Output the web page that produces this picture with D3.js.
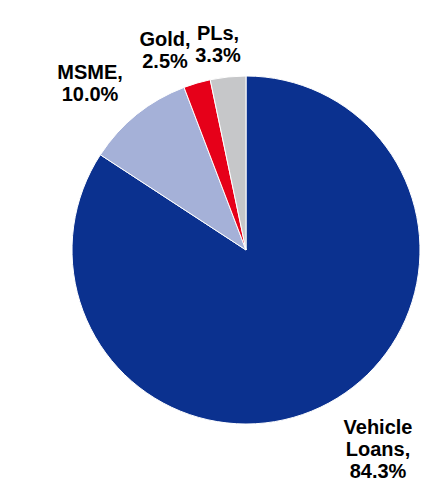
<!DOCTYPE html>
<html lang="en">
<head>
<meta charset="utf-8">
<title>Loan mix pie</title>
<script src="https://cdn.jsdelivr.net/npm/d3@7"></script>
<style>
  body { margin: 0; background: #fff; }
  text { font-family: Arial, "Liberation Sans", sans-serif; font-weight: bold; font-size: 20px; fill: #000; }
</style>
</head>
<body>
<script>
// data
var categories = ["Vehicle Loans", "MSME", "Gold", "PLs"];
var shares = [84.3, 10.0, 2.5, 3.3];
var colors = ["#0b318f", "#a5b1d8", "#e60019", "#c6c7c9"];

// label lines and where they sit (layout only)
var labelLines = [["Vehicle", "Loans,", "84.3%"], ["MSME,", "10.0%"], ["Gold,", "2.5%"], ["PLs,", "3.3%"]];
var labelAt = [[378, 434], [90, 79], [165, 46], [218, 40]];

var w = 424, h = 482;
var cx = 246, cy = 250, r = 174;

var svg = d3.select("body").append("svg")
  .attr("width", w)
  .attr("height", h);

var pie = d3.pie().sort(null).value(function(d) { return d; });
var arc = d3.arc().innerRadius(0).outerRadius(r);

var g = svg.append("g").attr("transform", "translate(" + cx + "," + cy + ")");

g.selectAll("path")
  .data(pie(shares))
  .enter()
  .append("path")
  .attr("d", arc)
  .attr("fill", function(d, i) { return colors[i]; })
  .attr("stroke", "#fff")
  .attr("stroke-width", 1);

var labels = svg.selectAll("text.lbl")
  .data(categories)
  .enter()
  .append("text")
  .attr("class", "lbl")
  .attr("text-anchor", "middle")
  .attr("x", function(d, i) { return labelAt[i][0]; })
  .attr("y", function(d, i) { return labelAt[i][1]; });

labels.each(function(d, i) {
  var t = d3.select(this);
  labelLines[i].forEach(function(line, j) {
    t.append("tspan")
      .attr("x", labelAt[i][0])
      .attr("dy", j === 0 ? 0 : 22)
      .text(line);
  });
});
</script>
</body>
</html>
